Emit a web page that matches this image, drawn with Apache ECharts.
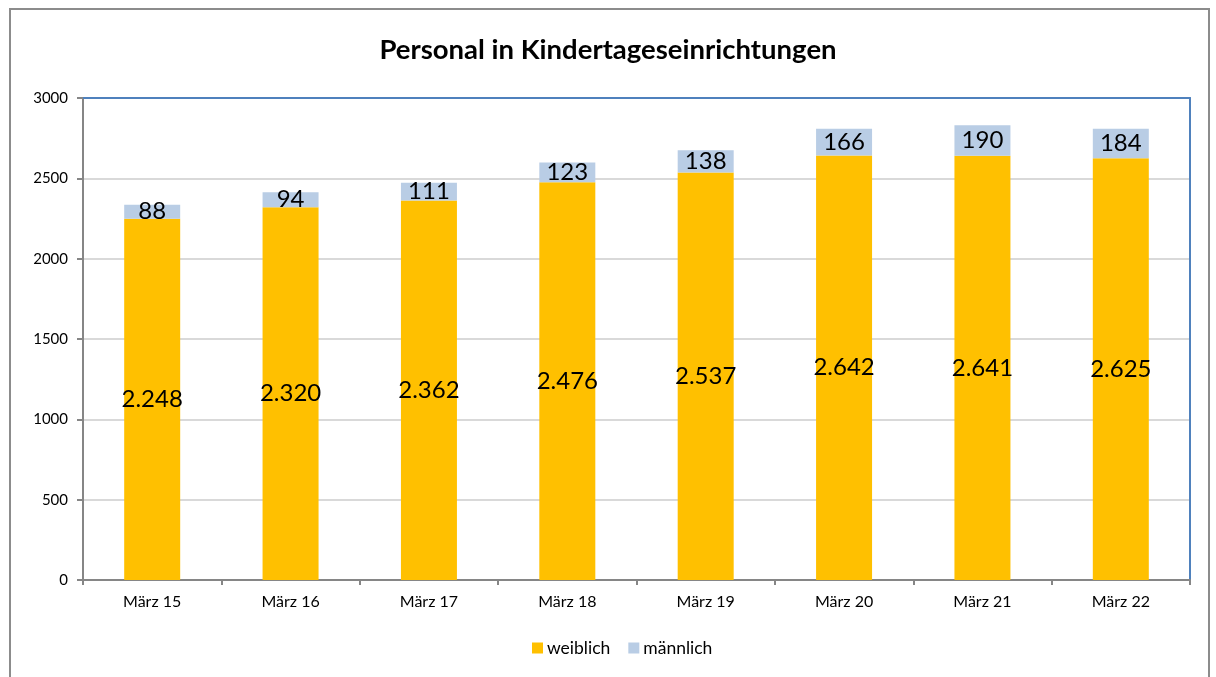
<!DOCTYPE html>
<html>
<head>
<meta charset="utf-8">
<script src="https://cdn.jsdelivr.net/npm/echarts@6/dist/echarts.min.js"></script>
<style>
  html, body { margin: 0; padding: 0; background: #fff; }
  #frame {
    position: absolute; left: 9px; top: 8px; width: 1197px; height: 680px;
    border: 2px solid #8c8c8c; border-bottom: none;
  }
  #chart { position: absolute; left: 0; top: 0; width: 1216px; height: 677px; }
</style>
</head>
<body>
<div id="frame"></div>
<div id="chart"></div>
<script>
// Jahre (Stichtag März)
const categories = ['März 15', 'März 16', 'März 17', 'März 18', 'März 19', 'März 20', 'März 21', 'März 22'];
const weiblich = [2248, 2320, 2362, 2476, 2537, 2642, 2641, 2625];
const maennlich = [88, 94, 111, 123, 138, 166, 190, 184];
const yTicks = [0, 500, 1000, 1500, 2000, 2500, 3000];

const FONT = 'Lato, "Liberation Sans", sans-serif';

// deutsche Tausendertrennung: 2248 -> 2.248
function deNum(v) {
  return String(v).replace(/\B(?=(\d{3})+(?!\d))/g, '.');
}

const chart = echarts.init(document.getElementById('chart'));

const labelStyle = {
  show: true,
  position: 'inside',
  color: '#000',
  fontFamily: FONT,
  fontSize: 24,
  formatter: p => deNum(p.value)
};

chart.setOption({
  animation: false,
  title: {
    text: 'Personal in Kindertageseinrichtungen',
    left: 'center',
    top: 31,
    textStyle: { fontFamily: FONT, fontSize: 27.5, fontWeight: 'bold', color: '#000' }
  },
  legend: {
    data: ['weiblich', 'männlich'],
    bottom: 15,
    left: 527,
    itemWidth: 11,
    itemHeight: 11,
    itemGap: 18,
    icon: 'rect',
    textStyle: { fontFamily: FONT, fontSize: 17.5, color: '#000', padding: [0, 0, 0, -1] }
  },
  grid: { left: 83, right: 26, top: 98, bottom: 97 },
  xAxis: [
    {
      type: 'category',
      data: categories,
      axisLine: { lineStyle: { color: '#868686', width: 2 } },
      axisTick: { show: true, length: 5, lineStyle: { color: '#868686', width: 2 } },
      axisLabel: { color: '#000', margin: 14, fontFamily: FONT, fontSize: 16 }
    },
    {
      // obere Rahmenlinie des Plotbereichs
      type: 'category',
      data: categories,
      position: 'top',
      axisLine: { show: true, onZero: false, lineStyle: { color: '#4F81BD', width: 2 } },
      axisTick: { show: false },
      axisLabel: { show: false }
    }
  ],
  yAxis: [
    {
      type: 'value',
      min: yTicks[0],
      max: yTicks[yTicks.length - 1],
      interval: 500,
      axisLine: { show: true, lineStyle: { color: '#868686', width: 2 } },
      axisTick: { show: true, length: 6, lineStyle: { color: '#868686', width: 2 } },
      splitLine: { lineStyle: { color: '#D9D9D9', width: 2 } },
      axisLabel: { color: '#000', margin: 15, fontFamily: FONT, fontSize: 15, formatter: v => String(v) }
    },
    {
      // rechte Rahmenlinie des Plotbereichs
      type: 'value',
      min: yTicks[0],
      max: yTicks[yTicks.length - 1],
      interval: 500,
      position: 'right',
      axisLine: { show: true, onZero: false, lineStyle: { color: '#4F81BD', width: 2 } },
      axisTick: { show: false },
      axisLabel: { show: false },
      splitLine: { show: false }
    }
  ],
  series: [
    {
      name: 'weiblich',
      type: 'bar',
      stack: 'gesamt',
      barWidth: 56,
      data: weiblich,
      itemStyle: { color: '#FFC000' },
      label: labelStyle
    },
    {
      name: 'männlich',
      type: 'bar',
      stack: 'gesamt',
      barWidth: 56,
      data: maennlich,
      itemStyle: { color: '#B9CDE5' },
      label: labelStyle
    }
  ]
});
</script>
</body>
</html>
